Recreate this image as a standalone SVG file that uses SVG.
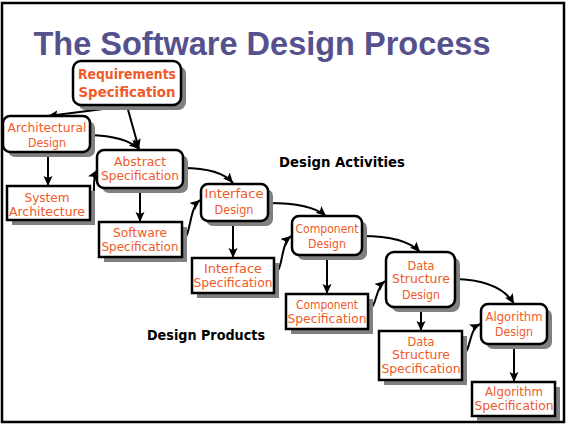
<svg xmlns="http://www.w3.org/2000/svg" width="566" height="426" viewBox="0 0 566 426">
<style>
.sh{fill:#808080;stroke:none}
.bx{fill:#ffffff;stroke:#000000;stroke-width:2.5}
.t{font-family:"DejaVu Sans","Liberation Sans",sans-serif;font-size:12px;fill:#F05A28;text-anchor:middle}
.tb{font-family:"DejaVu Sans","Liberation Sans",sans-serif;font-size:14px;font-weight:bold;fill:#F05A28;text-anchor:middle}
.lbl{font-family:"DejaVu Sans","Liberation Sans",sans-serif;font-size:14px;font-weight:bold;fill:#000000}
.c{fill:none;stroke:#000000;stroke-width:2;marker-end:url(#ah)}
</style>
<defs>
<marker id="ah" markerUnits="userSpaceOnUse" markerWidth="11" markerHeight="10" refX="10" refY="4.5" orient="auto">
<path d="M0,0 L10,4.5 L0,9 L2,4.5 z" fill="#000000"/>
</marker>
</defs>
<rect x="0" y="0" width="566" height="426" fill="#ffffff"/>
<rect x="2" y="3" width="562" height="419" fill="none" stroke="#000000" stroke-width="2.5"/>
<text x="262" y="55" font-family="Liberation Sans, Arial, sans-serif" font-size="34" font-weight="bold" fill="#55518C" text-anchor="middle" textLength="457" lengthAdjust="spacingAndGlyphs">The Software Design Process</text>

<g id="connectors">
<path class="c" d="M127,106 L48,116"/>
<path class="c" d="M127,106 L139,149"/>
<path class="c" d="M90,135 Q125,136 139,149"/>
<path class="c" d="M48,152 L48,186"/>
<path class="c" d="M90,205 C97,199 91,180 97,170"/>
<path class="c" d="M183,168 Q220,168 233,183"/>
<path class="c" d="M140,188 L140,222"/>
<path class="c" d="M182,241 C192,235 188,210 200,200"/>
<path class="c" d="M268,203 Q311,203 326,216"/>
<path class="c" d="M233,221 L233,258"/>
<path class="c" d="M274,276 C284,268 280,245 291,236"/>
<path class="c" d="M362,236 Q405,236 420,252"/>
<path class="c" d="M327,255 L327,294"/>
<path class="c" d="M368,311 C378,305 374,290 385,281"/>
<path class="c" d="M455,279 Q500,280 514,304"/>
<path class="c" d="M421,307 L421,331"/>
<path class="c" d="M462,356 C472,350 468,330 480,324"/>
<path class="c" d="M514,344 L514,382"/>
</g>

<g id="req">
<rect class="sh" x="78" y="66" width="108" height="44" rx="8"/>
<rect class="bx" x="73" y="61" width="108" height="44" rx="8"/>
<text class="tb" x="127" y="79" textLength="98" lengthAdjust="spacingAndGlyphs">Requirements</text>
<text class="tb" x="127" y="97" textLength="97" lengthAdjust="spacingAndGlyphs">Specification</text>
</g>
<g id="arch">
<rect class="sh" x="8" y="121" width="87" height="36" rx="7"/>
<rect class="bx" x="3" y="116" width="87" height="36" rx="7"/>
<text class="t" x="47" y="132" textLength="79" lengthAdjust="spacingAndGlyphs">Architectural</text>
<text class="t" x="47" y="147" textLength="38" lengthAdjust="spacingAndGlyphs">Design</text>
</g>
<g id="sysarch">
<rect class="sh" x="12" y="191" width="83" height="34"/>
<rect class="bx" x="7" y="186" width="83" height="34"/>
<text class="t" x="47" y="202" textLength="45" lengthAdjust="spacingAndGlyphs">System</text>
<text class="t" x="47" y="216" textLength="76" lengthAdjust="spacingAndGlyphs">Architecture</text>
</g>
<g id="abs">
<rect class="sh" x="102" y="155" width="86" height="38" rx="7"/>
<rect class="bx" x="97" y="150" width="86" height="38" rx="7"/>
<text class="t" x="140" y="166" textLength="52" lengthAdjust="spacingAndGlyphs">Abstract</text>
<text class="t" x="140" y="180" textLength="78" lengthAdjust="spacingAndGlyphs">Specification</text>
</g>
<g id="sw">
<rect class="sh" x="104" y="227" width="83" height="35"/>
<rect class="bx" x="99" y="222" width="83" height="35"/>
<text class="t" x="140" y="237" textLength="54" lengthAdjust="spacingAndGlyphs">Software</text>
<text class="t" x="140" y="251" textLength="77" lengthAdjust="spacingAndGlyphs">Specification</text>
</g>
<g id="ifd">
<rect class="sh" x="206" y="189" width="67" height="37" rx="7"/>
<rect class="bx" x="201" y="184" width="67" height="37" rx="7"/>
<text class="t" x="234" y="198" textLength="59" lengthAdjust="spacingAndGlyphs">Interface</text>
<text class="t" x="234" y="214" textLength="39" lengthAdjust="spacingAndGlyphs">Design</text>
</g>
<g id="ifs">
<rect class="sh" x="197" y="263" width="82" height="35"/>
<rect class="bx" x="192" y="258" width="82" height="35"/>
<text class="t" x="233" y="273" textLength="58" lengthAdjust="spacingAndGlyphs">Interface</text>
<text class="t" x="233" y="287" textLength="79" lengthAdjust="spacingAndGlyphs">Specification</text>
</g>
<g id="cd">
<rect class="sh" x="297" y="221" width="70" height="39" rx="7"/>
<rect class="bx" x="292" y="216" width="70" height="39" rx="7"/>
<text class="t" x="327" y="233" textLength="63" lengthAdjust="spacingAndGlyphs">Component</text>
<text class="t" x="327" y="248" textLength="38" lengthAdjust="spacingAndGlyphs">Design</text>
</g>
<g id="cs">
<rect class="sh" x="291" y="299" width="82" height="35"/>
<rect class="bx" x="286" y="294" width="82" height="35"/>
<text class="t" x="327" y="309" textLength="62" lengthAdjust="spacingAndGlyphs">Component</text>
<text class="t" x="327" y="323" textLength="79" lengthAdjust="spacingAndGlyphs">Specification</text>
</g>
<g id="dsd">
<rect class="sh" x="391" y="257" width="69" height="55" rx="8"/>
<rect class="bx" x="386" y="252" width="69" height="55" rx="8"/>
<text class="t" x="421" y="270" textLength="27" lengthAdjust="spacingAndGlyphs">Data</text>
<text class="t" x="421" y="283" textLength="58" lengthAdjust="spacingAndGlyphs">Structure</text>
<text class="t" x="421" y="299" textLength="38" lengthAdjust="spacingAndGlyphs">Design</text>
</g>
<g id="dss">
<rect class="sh" x="384" y="336" width="83" height="49"/>
<rect class="bx" x="379" y="331" width="83" height="49"/>
<text class="t" x="421" y="346" textLength="27" lengthAdjust="spacingAndGlyphs">Data</text>
<text class="t" x="421" y="359" textLength="58" lengthAdjust="spacingAndGlyphs">Structure</text>
<text class="t" x="421" y="373" textLength="79" lengthAdjust="spacingAndGlyphs">Specification</text>
</g>
<g id="ad">
<rect class="sh" x="486" y="309" width="66" height="40" rx="7"/>
<rect class="bx" x="481" y="304" width="66" height="40" rx="7"/>
<text class="t" x="514" y="321" textLength="57" lengthAdjust="spacingAndGlyphs">Algorithm</text>
<text class="t" x="514" y="336" textLength="38" lengthAdjust="spacingAndGlyphs">Design</text>
</g>
<g id="as">
<rect class="sh" x="477" y="387" width="83" height="34"/>
<rect class="bx" x="472" y="382" width="83" height="34"/>
<text class="t" x="514" y="396" textLength="58" lengthAdjust="spacingAndGlyphs">Algorithm</text>
<text class="t" x="514" y="410" textLength="79" lengthAdjust="spacingAndGlyphs">Specification</text>
</g>

<text class="lbl" x="279" y="167" textLength="126" lengthAdjust="spacingAndGlyphs">Design Activities</text>
<text class="lbl" x="147" y="340" textLength="118" lengthAdjust="spacingAndGlyphs">Design Products</text>
</svg>
